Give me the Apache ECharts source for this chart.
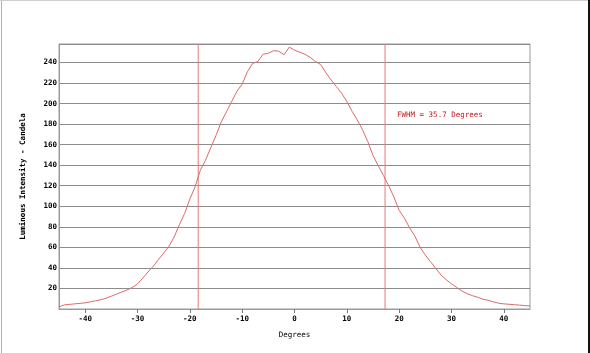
<!DOCTYPE html>
<html>
<head>
<meta charset="utf-8">
<script src="https://cdn.jsdelivr.net/npm/echarts@6/dist/echarts.min.js"></script>
<style>
	html, body { margin: 0; padding: 0; background: #fff; }
	#chart { width: 590px; height: 353px; }
</style>
</head>
<body>
<div id="chart"></div>
<script>
// angle in degrees, intensity in candela
const degrees = [];
for (let d = -45; d <= 45; d++) degrees.push(d);
const intensity = [
	2, 4, 4.5, 5, 5.5, 6, 7, 8, 9, 10.5,
	12.5, 14.5, 16.5, 18.5, 21, 24.5, 30, 36, 41.5, 48,
	54.5, 61, 70, 82, 93, 107, 119, 135, 145, 157,
	169, 182, 192, 202, 212, 219, 231, 239, 241, 248,
	249, 251.5, 251, 247.5, 255, 252, 250, 248, 245, 241,
	238, 230, 223, 216.5, 210, 202, 192.5, 184, 174.5, 163,
	149.5, 139.5, 130, 120, 109, 96, 88.5, 79, 71, 60,
	52.5, 46, 39.5, 33, 28.5, 24.5, 21, 17.5, 15, 13,
	11.5, 9.5, 8.5, 7, 5.6, 5, 4.6, 4.2, 3.8, 3.3,
	3
];
const xTicks = [-40, -30, -20, -10, 0, 10, 20, 30, 40];
const halfMaxAngles = [-18.4, 17.3];
const fwhmText = 'FWHM = 35.7 Degrees';

const mono = 'DejaVu Sans Mono';
const yMax = 258;
const chart = echarts.init(document.getElementById('chart'));

// vertical half-max markers, drawn as plain line series
const fwhmSeries = halfMaxAngles.map(a => ({
	type: 'line',
	data: [[a, 0], [a, yMax]],
	showSymbol: false,
	silent: true,
	lineStyle: { color: '#e87878', width: 1 },
	z: 1
}));

chart.setOption({
	animation: false,
	backgroundColor: '#fff',
	grid: {
		left: 59, right: 60, top: 44, bottom: 44,
		show: true, borderColor: '#9a9a9a', borderWidth: 1
	},
	xAxis: {
		type: 'value',
		min: -45, max: 45,
		name: 'Degrees',
		nameLocation: 'middle',
		nameGap: 22,
		nameTextStyle: { fontFamily: mono, fontSize: 7.5, color: '#000' },
		axisLine: { show: true, onZero: false, lineStyle: { color: '#9a9a9a' } },
		axisTick: { show: true, length: 4, customValues: xTicks, lineStyle: { color: '#777' } },
		axisLabel: { customValues: xTicks, margin: 6, fontFamily: mono, fontSize: 7.5, fontWeight: 'bold', color: '#000' },
		splitLine: { show: false }
	},
	yAxis: {
		type: 'value',
		min: 0, max: yMax, interval: 20,
		name: 'Luminous Intensity - Candela',
		nameLocation: 'middle',
		nameGap: 32,
		nameTextStyle: { fontFamily: mono, fontSize: 7.5, fontWeight: 'bold', color: '#000' },
		axisLine: { show: true, onZero: false, lineStyle: { color: '#9a9a9a' } },
		axisTick: { show: false },
		axisLabel: {
			margin: 2, fontFamily: mono, fontSize: 7.5, fontWeight: 'bold', color: '#000',
			formatter: v => (v > 0 && v % 20 === 0) ? String(v) : ''
		},
		splitLine: { show: true, lineStyle: { color: '#8c8c8c', width: 1 } }
	},
	series: fwhmSeries.concat([{
		type: 'line',
		data: degrees.map((d, i) => [d, intensity[i]]),
		showSymbol: false,
		lineStyle: { color: '#dd6a6a', width: 1 },
		z: 2
	}]),
	graphic: [
		{ type: 'text', left: 397, top: 111, style: { text: fwhmText, fill: '#c41a1a', font: '7.5px "DejaVu Sans Mono"' } },
		{ type: 'rect', shape: { x: 1, y: 0, width: 1, height: 353 }, style: { fill: '#b0b0b0' } },
		{ type: 'rect', shape: { x: 0, y: 0, width: 590, height: 1 }, style: { fill: '#cfcfcf' } },
		{ type: 'rect', shape: { x: 588, y: 0, width: 2, height: 353 }, style: { fill: '#111' } }
	]
});
</script>
</body>
</html>
